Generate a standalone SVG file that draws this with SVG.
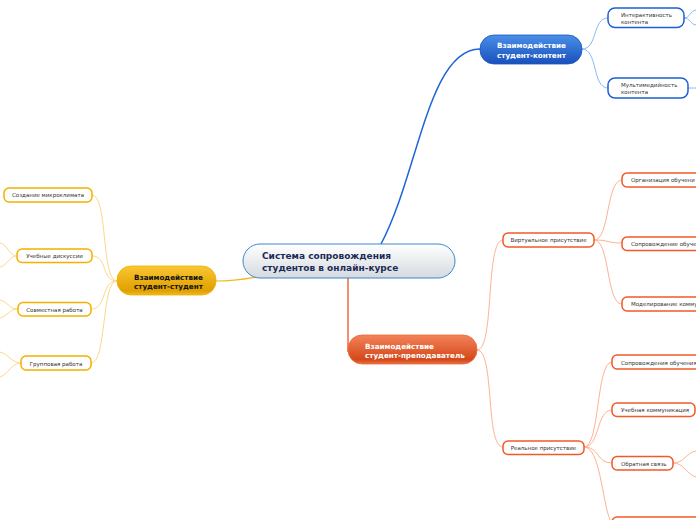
<svg xmlns="http://www.w3.org/2000/svg" width="696" height="520" viewBox="0 0 696 520">
<defs>
<linearGradient id="gCenter" x1="0" y1="0" x2="0" y2="1"><stop offset="0" stop-color="#ffffff"/><stop offset="1" stop-color="#d5dadf"/></linearGradient>
<linearGradient id="gBlue" x1="0" y1="0" x2="0" y2="1"><stop offset="0" stop-color="#4a8fe8"/><stop offset="1" stop-color="#1850bb"/></linearGradient>
<linearGradient id="gOrange" x1="0" y1="0" x2="0" y2="1"><stop offset="0" stop-color="#f3835a"/><stop offset="0.85" stop-color="#d4481a"/><stop offset="1" stop-color="#e8703f"/></linearGradient>
<linearGradient id="gYellow" x1="0" y1="0" x2="0" y2="1"><stop offset="0" stop-color="#f9c634"/><stop offset="0.85" stop-color="#e0a000"/><stop offset="1" stop-color="#f0b820"/></linearGradient>
</defs>
<style>
.c{fill:none;stroke-width:1}
.cb{stroke:#8fb8f0}
.co{stroke:#fdb293}
.cy{stroke:#fcd88a}
.nb{fill:#fff;stroke:#1d5fd6;stroke-width:1.5}
.no{fill:#fff;stroke:#f05a28;stroke-width:1.5}
.ny{fill:#fff;stroke:#f5b000;stroke-width:1.5}
.t{font-family:"DejaVu Sans",sans-serif;font-size:5.5px;fill:#333}
.tm{font-family:"DejaVu Sans",sans-serif;font-size:7.2px;font-weight:bold}
</style>
<rect width="696" height="520" fill="#fff"/>
<g id="connectors">
<path d="M381,244 C418,175 428,49 480,49" fill="none" stroke="#1e66d8" stroke-width="1.5"/>
<path d="M348,278 L348,352" fill="none" stroke="#f06a3a" stroke-width="1.5"/>
<path d="M216,281 C236,281 244,279 262,276" fill="none" stroke="#f5b820" stroke-width="1.2"/>
<path class="c cb" d="M582,49 C598,49 592,18 608,18"/>
<path class="c cb" d="M582,49 C598,49 592,88 608,88"/>
<path class="c cb" d="M684,18 C690,18 690,11 696,10"/>
<path class="c cb" d="M684,18 C690,18 690,24 696,25"/>
<path class="c cb" d="M688,88 L696,88"/>
<path class="c co" d="M477,350 C495,350 485,240 503,240"/>
<path class="c co" d="M477,350 C495,350 485,447 503,447"/>
<path class="c co" d="M594,240 C610,240 606,180 622,180"/>
<path class="c co" d="M594,240 C610,240 606,243 622,243"/>
<path class="c co" d="M594,240 C610,240 606,304 622,304"/>
<path class="c co" d="M584,447 C600,447 596,362 612,362"/>
<path class="c co" d="M584,447 C600,447 596,410 612,410"/>
<path class="c co" d="M584,447 C600,447 596,463 612,463"/>
<path class="c co" d="M584,447 C600,447 602,500 610,520"/>
<path class="c co" d="M673,463 C684,463 686,453 696,451"/>
<path class="c co" d="M673,463 C684,463 686,474 696,477"/>
<path class="c cy" d="M117,281 C101,281 108,195 92,195"/>
<path class="c cy" d="M117,281 C101,281 108,256 92,256"/>
<path class="c cy" d="M117,281 C101,281 107,309 91,309"/>
<path class="c cy" d="M117,281 C101,281 107,363 91,363"/>
<path class="c cy" d="M17,256 C9,256 8,245 0,243"/>
<path class="c cy" d="M17,256 C9,256 8,265 0,267"/>
<path class="c cy" d="M18,309 C9,309 8,302 0,300"/>
<path class="c cy" d="M18,309 C9,309 8,316 0,318"/>
<path class="c cy" d="M21,363 C11,363 9,354 0,352"/>
<path class="c cy" d="M21,363 C11,363 9,374 0,377"/>
</g>
<g id="center">
<rect x="243" y="244" width="212" height="34" rx="17" fill="url(#gCenter)" stroke="#3a86d4" stroke-width="1"/>
<text x="262" y="259" font-family="DejaVu Sans,sans-serif" font-size="9" font-weight="bold" fill="#1b2b56">Система сопровождения</text>
<text x="262" y="270.5" font-family="DejaVu Sans,sans-serif" font-size="9" font-weight="bold" fill="#1b2b56">студентов в онлайн-курсе</text>
</g>
<g id="n-content">
<rect x="480" y="35" width="102" height="29" rx="14" fill="url(#gBlue)" stroke="#1a55c0" stroke-width="0.8"/>
<text class="tm" x="497" y="48" fill="#fff">Взаимодействие</text>
<text class="tm" x="497" y="57.5" fill="#fff">студент-контент</text>
</g>
<g id="n-interact"><rect class="nb" x="608" y="8" width="76" height="19.5" rx="7"/><text class="t" x="621" y="17">Интерактивность</text><text class="t" x="621" y="24">контента</text></g>
<g id="n-multi"><rect class="nb" x="608" y="78" width="80" height="20" rx="7"/><text class="t" x="621" y="87">Мультимедийность</text><text class="t" x="621" y="94">контента</text></g>
<g id="n-teacher">
<rect x="348" y="335" width="129" height="29" rx="14" fill="url(#gOrange)" stroke="#e86a3a" stroke-width="0.8"/>
<text class="tm" x="365" y="349" fill="#fff">Взаимодействие</text>
<text class="tm" x="365" y="358" fill="#fff">студент-преподаватель</text>
</g>
<g id="n-virtual"><rect class="no" x="503" y="233" width="91" height="14" rx="5"/><text class="t" x="548.5" y="242.2" text-anchor="middle">Виртуальное присутствие</text></g>
<g id="n-org"><rect class="no" x="622" y="173" width="90" height="14" rx="5"/><text class="t" x="631" y="182.2">Организация обучени</text></g>
<g id="n-sopr1"><rect class="no" x="622" y="237" width="90" height="13.5" rx="5"/><text class="t" x="631" y="246">Сопровождение обучен</text></g>
<g id="n-model"><rect class="no" x="622" y="297" width="90" height="14" rx="5"/><text class="t" x="631" y="306">Моделирование комму</text></g>
<g id="n-real"><rect class="no" x="503" y="441" width="81" height="13.5" rx="5"/><text class="t" x="543.5" y="449.8" text-anchor="middle">Реальное присутствие</text></g>
<g id="n-sopr2"><rect class="no" x="612" y="355" width="92" height="14" rx="5"/><text class="t" x="621" y="364.5">Сопровождения обучения</text></g>
<g id="n-comm"><rect class="no" x="612" y="403" width="83" height="13.5" rx="5"/><text class="t" x="621" y="412">Учебная коммуникация</text></g>
<g id="n-feedback"><rect class="no" x="612" y="456.5" width="61" height="13.5" rx="5"/><text class="t" x="621" y="465.5">Обратная связь</text></g>
<g id="n-bottom"><rect class="no" x="612" y="517" width="92" height="14" rx="5"/></g>
<g id="n-student">
<rect x="117" y="266" width="99" height="29" rx="14" fill="url(#gYellow)" stroke="#f0b000" stroke-width="0.8"/>
<text class="tm" x="134" y="280" fill="#111">Взаимодействие</text>
<text class="tm" x="134" y="289" fill="#111">студент-студент</text>
</g>
<g id="n-climate"><rect class="ny" x="4" y="188" width="88" height="14" rx="5"/><text class="t" x="48" y="197.2" text-anchor="middle">Создание микроклимата</text></g>
<g id="n-discuss"><rect class="ny" x="17" y="249" width="75" height="13.5" rx="5"/><text class="t" x="54.5" y="258" text-anchor="middle">Учебные дискуссии</text></g>
<g id="n-joint"><rect class="ny" x="18" y="302.5" width="73" height="13.5" rx="5"/><text class="t" x="54.5" y="311.5" text-anchor="middle">Совместная работа</text></g>
<g id="n-group"><rect class="ny" x="21" y="356" width="70" height="14" rx="5"/><text class="t" x="56" y="365.5" text-anchor="middle">Групповая работа</text></g>
</svg>
